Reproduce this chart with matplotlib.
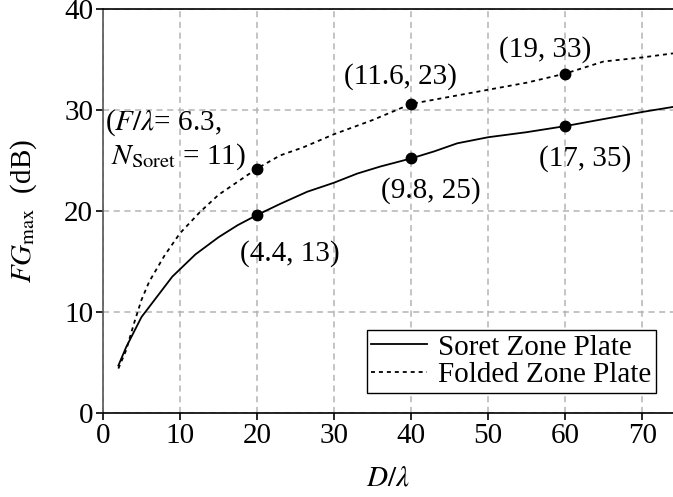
import matplotlib
matplotlib.use("Agg")
import matplotlib.pyplot as plt

plt.rcParams["font.family"] = ["Liberation Serif", "DejaVu Serif"]
plt.rcParams["mathtext.fontset"] = "stix"

# Soret zone plate (solid)
soret_d = [2, 3, 4, 5, 7, 9, 12, 15, 17.5, 20, 23, 26.5, 30, 33, 36, 40, 43, 46, 50, 55, 60, 65, 70, 74]
soret_g = [4.7, 6.5, 8.0, 9.5, 11.5, 13.5, 15.7, 17.4, 18.6, 19.6, 20.7, 21.9, 22.8, 23.7, 24.4,
           25.2, 25.9, 26.7, 27.3, 27.8, 28.4, 29.1, 29.8, 30.3]

# Folded zone plate (dotted)
folded_d = [2, 3, 4, 5, 6, 8, 10, 12.6, 15, 17.5, 20, 23, 26, 30, 35, 40, 45, 50, 55, 60, 65, 70, 74]
folded_g = [4.4, 6.2, 8.8, 11.2, 13.0, 15.6, 17.8, 19.9, 21.6, 22.9, 24.2, 25.5, 26.3, 27.6, 29.0,
            30.6, 31.3, 32.0, 32.7, 33.6, 34.8, 35.2, 35.6]

# highlighted design points
mark_d = [20, 40, 60]
soret_mark = [19.6, 25.2, 28.4]
folded_mark = [24.2, 30.6, 33.6]

soret_labels = ["(4.4, 13)", "(9.8, 25)", "(17, 35)"]
folded_labels = ["(11.6, 23)", "(19, 33)"]

FS = 21

fig = plt.figure(figsize=(6.73, 4.97), dpi=100)
ax = fig.add_axes([0.153, 0.169, 0.847, 0.813])

ax.plot(soret_d, soret_g, color="black", lw=1.3, label="Soret Zone Plate")
ax.plot(folded_d, folded_g, color="black", lw=1.3, ls=(0, (2.2, 2.2)), label="Folded Zone Plate")
ax.plot(mark_d, soret_mark, "o", color="black", ms=7.5, zorder=5)
ax.plot(mark_d, folded_mark, "o", color="black", ms=7.5, zorder=5)

# annotations
ax.text(24.3, 15.8, soret_labels[0], fontsize=FS, ha="center", va="center")
ax.text(42.6, 22.0, soret_labels[1], fontsize=FS, ha="center", va="center")
ax.text(62.6, 25.2, soret_labels[2], fontsize=FS, ha="center", va="center")
ax.text(38.6, 33.3, folded_labels[0], fontsize=FS, ha="center", va="center")
ax.text(57.4, 36.0, folded_labels[1], fontsize=FS, ha="center", va="center")
ax.text(0.2, 28.7, r"($F/\lambda$= 6.3,", fontsize=FS, ha="left", va="center")
ax.text(1.1, 25.4, r"$N_{\rm Soret}$ = 11)", fontsize=FS, ha="left", va="center")

ax.set_xlim(0, 74)
ax.set_ylim(0, 40)
ax.set_xticks(range(0, 71, 10))
ax.set_yticks(range(0, 41, 10))
ax.tick_params(labelsize=FS, direction="out", length=5, width=1.2, colors="black", pad=2)
ax.set_xlabel(r"$D/\lambda$", fontsize=FS, labelpad=12)
ax.set_ylabel(r"$FG_{\rm max}$  (dB)", fontsize=FS, labelpad=18)

ax.grid(True, color="#b4b4b4", ls=(0, (4, 3)), lw=1.1)
ax.spines["right"].set_visible(False)
for s in ["left", "bottom", "top"]:
    ax.spines[s].set_linewidth(1.2)
ax.spines["left"].set_color("#555555")

leg = ax.legend(loc="lower right", bbox_to_anchor=(0.970, 0.05), fontsize=FS, fancybox=False,
                framealpha=1, edgecolor="black", handlelength=1.9, borderpad=0.15,
                labelspacing=0.05, handletextpad=0.4, borderaxespad=0)
leg.get_frame().set_linewidth(1.0)

fig.savefig("out.png", dpi=100)
